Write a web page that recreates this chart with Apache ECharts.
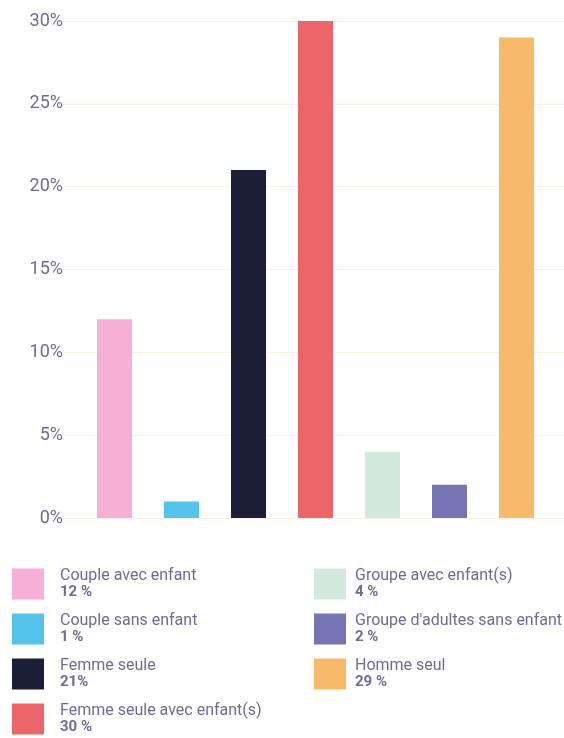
<!DOCTYPE html>
<html>
<head>
<meta charset="utf-8">
<script src="https://cdn.jsdelivr.net/npm/echarts@6/dist/echarts.min.js"></script>
<style>
  html, body { margin: 0; padding: 0; background: #fff; }
  #chart { width: 564px; height: 738px; }
</style>
</head>
<body>
<div id="chart"></div>
<script>
// catégories et valeurs (en %)
var categories = ['Couple avec enfant', 'Couple sans enfant', 'Femme seule', 'Femme seule avec enfant(s)',
  'Groupe avec enfant(s)', "Groupe d'adultes sans enfant", 'Homme seul'];
var values = [12, 1, 21, 30, 4, 2, 29];
var valueLabels = ['12 %', '1 %', '21%', '30 %', '4 %', '2 %', '29 %'];
var colors = ['#f7b0d5', '#55c4ea', '#1a1e37', '#ec656a', '#d2e9dd', '#7774b4', '#f7b96a'];
var yTicks = [0, 5, 10, 15, 20, 25, 30];

var textColor = '#736a93';
var chart = echarts.init(document.getElementById('chart'));

// une série par catégorie, pour que la légende les liste toutes
var series = categories.map(function (name, i) {
  var data = categories.map(function (c, j) { return j === i ? values[i] : null; });
  return {
    name: name,
    type: 'bar',
    xAxisIndex: 1,
    yAxisIndex: 1,
    barWidth: 35,
    barGap: '-100%',
    itemStyle: { color: colors[i] },
    data: data
  };
});

function legendLabel(name) {
  var i = categories.indexOf(name);
  return name + '\n{b|' + valueLabels[i] + '}';
}

function makeLegend(left, textGap, names) {
  return {
    orient: 'vertical',
    left: left,
    top: 567,
    height: 171,
    padding: 0,
    itemWidth: 32,
    itemHeight: 31,
    itemGap: 11,
    icon: 'rect',
    selectedMode: false,
    formatter: legendLabel,
    data: names,
    textStyle: {
      color: textColor,
      fontFamily: 'Roboto',
      fontSize: 16,
      lineHeight: 17,
      padding: [0, 0, 0, textGap],
      rich: {
        b: { fontFamily: 'Roboto', fontSize: 15, fontWeight: 'bold', color: textColor, lineHeight: 17 }
      }
    }
  };
}

var option = {
  animation: false,
  grid: [
    { left: 59, right: 0, top: 21, bottom: 220 },
    { left: 81, right: 14, top: 21, bottom: 220 }
  ],
  xAxis: [
    { type: 'value', gridIndex: 0, show: false, min: 0, max: 1 },
    { type: 'category', gridIndex: 1, data: categories, show: false }
  ],
  yAxis: [
    {
      type: 'value', gridIndex: 0, min: 0, max: 30, interval: 5,
      axisLine: { show: false },
      axisTick: { show: false },
      axisLabel: {
        color: textColor, fontFamily: 'Roboto', fontSize: 18, margin: -4,
        formatter: function (v) { return yTicks.indexOf(v) >= 0 ? v + '%' : ''; }
      },
      splitLine: { lineStyle: { color: '#fdf0e2', width: 1 } }
    },
    { type: 'value', gridIndex: 1, min: 0, max: 30, show: false, splitLine: { show: false } }
  ],
  legend: [
    makeLegend(12, 11, categories.slice(0, 4)),
    makeLegend(314, 4, categories.slice(4))
  ],
  series: series
};

chart.setOption(option);
</script>
</body>
</html>
